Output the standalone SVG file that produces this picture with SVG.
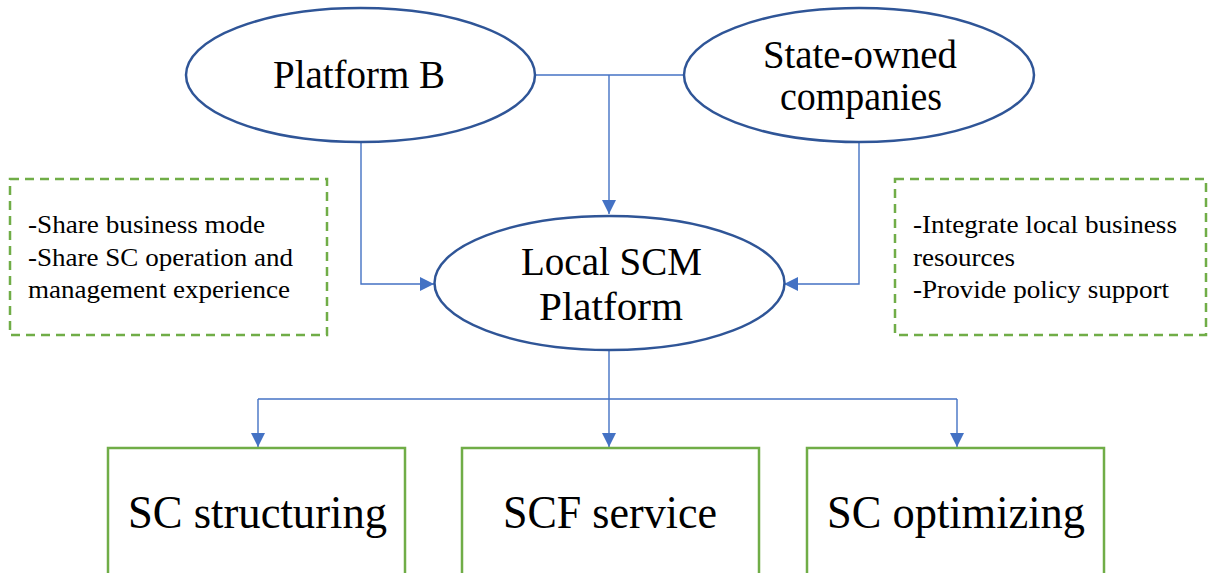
<svg xmlns="http://www.w3.org/2000/svg" width="1212" height="573" viewBox="0 0 1212 573">
  <defs>
    <marker id="arrow" viewBox="0 0 14 14" refX="14" refY="7" markerWidth="14" markerHeight="14" markerUnits="userSpaceOnUse" orient="auto">
      <path d="M0,0 L14,7 L0,14 Z" fill="#4472C4"/>
    </marker>
    <style>
      .ell { fill: #ffffff; stroke: #2F5597; stroke-width: 2.5; }
      .box { fill: #ffffff; stroke: #70AD47; stroke-width: 2.5; }
      .note { fill: #ffffff; stroke: #70AD47; stroke-width: 2.5; stroke-dasharray: 9 6; }
      .conn { fill: none; stroke: #4472C4; stroke-width: 1.4; }
      .big { font-size: 39px; text-anchor: middle; }
      .lbl { font-size: 47px; text-anchor: middle; }
      .small { font-size: 26px; }
    </style>
  </defs>
  <rect width="1212" height="573" fill="#ffffff"/>

  <!-- connectors -->
  <g id="connectors">
    <path class="conn" d="M535,75 H684"/>
    <path class="conn" d="M609,75 V214" marker-end="url(#arrow)"/>
    <path class="conn" d="M361,142 V284 H434" marker-end="url(#arrow)"/>
    <path class="conn" d="M859,142 V284 H784" marker-end="url(#arrow)"/>
    <path class="conn" d="M609,350 V447" marker-end="url(#arrow)"/>
    <path class="conn" d="M258,399 H957"/>
    <path class="conn" d="M258,399 V447" marker-end="url(#arrow)"/>
    <path class="conn" d="M957,399 V447" marker-end="url(#arrow)"/>
  </g>

  <g font-family="Liberation Serif, Times New Roman, Times, Tinos, Noto Serif, FreeSerif, DejaVu Serif, serif" fill="#000">
    <g id="platform-b">
      <ellipse class="ell" cx="360.5" cy="75" rx="174.5" ry="67"/>
      <text class="big" x="359" y="88" textLength="172" lengthAdjust="spacingAndGlyphs">Platform B</text>
    </g>

    <g id="state-owned">
      <ellipse class="ell" cx="859" cy="75" rx="175" ry="67"/>
      <text class="big" x="860" y="68" textLength="194" lengthAdjust="spacingAndGlyphs">State-owned</text>
      <text class="big" x="861" y="110" textLength="162" lengthAdjust="spacingAndGlyphs">companies</text>
    </g>

    <g id="local-scm">
      <ellipse class="ell" cx="609.5" cy="283" rx="175" ry="67"/>
      <text class="big" x="611.5" y="275" textLength="181" lengthAdjust="spacingAndGlyphs">Local SCM</text>
      <text class="big" x="611" y="320" textLength="144" lengthAdjust="spacingAndGlyphs">Platform</text>
    </g>

    <g id="note-left">
      <rect class="note" x="10" y="179" width="317" height="156"/>
      <text class="small" x="28" y="233" textLength="237" lengthAdjust="spacingAndGlyphs">-Share business mode</text>
      <text class="small" x="28" y="265.5" textLength="265" lengthAdjust="spacingAndGlyphs">-Share SC operation and</text>
      <text class="small" x="28" y="298" textLength="262" lengthAdjust="spacingAndGlyphs">management experience</text>
    </g>

    <g id="note-right">
      <rect class="note" x="895" y="179" width="311" height="156"/>
      <text class="small" x="913" y="233" textLength="264" lengthAdjust="spacingAndGlyphs">-Integrate local business</text>
      <text class="small" x="913" y="266" textLength="102" lengthAdjust="spacingAndGlyphs">resources</text>
      <text class="small" x="913" y="298" textLength="256" lengthAdjust="spacingAndGlyphs">-Provide policy support</text>
    </g>

    <g id="sc-structuring">
      <rect class="box" x="108" y="448" width="297" height="140"/>
      <text class="lbl" x="257.5" y="528" textLength="259" lengthAdjust="spacingAndGlyphs">SC structuring</text>
    </g>

    <g id="scf-service">
      <rect class="box" x="462" y="448" width="297" height="140"/>
      <text class="lbl" x="610" y="528" textLength="214" lengthAdjust="spacingAndGlyphs">SCF service</text>
    </g>

    <g id="sc-optimizing">
      <rect class="box" x="807" y="448" width="297" height="140"/>
      <text class="lbl" x="956" y="528" textLength="258" lengthAdjust="spacingAndGlyphs">SC optimizing</text>
    </g>
  </g>
</svg>
